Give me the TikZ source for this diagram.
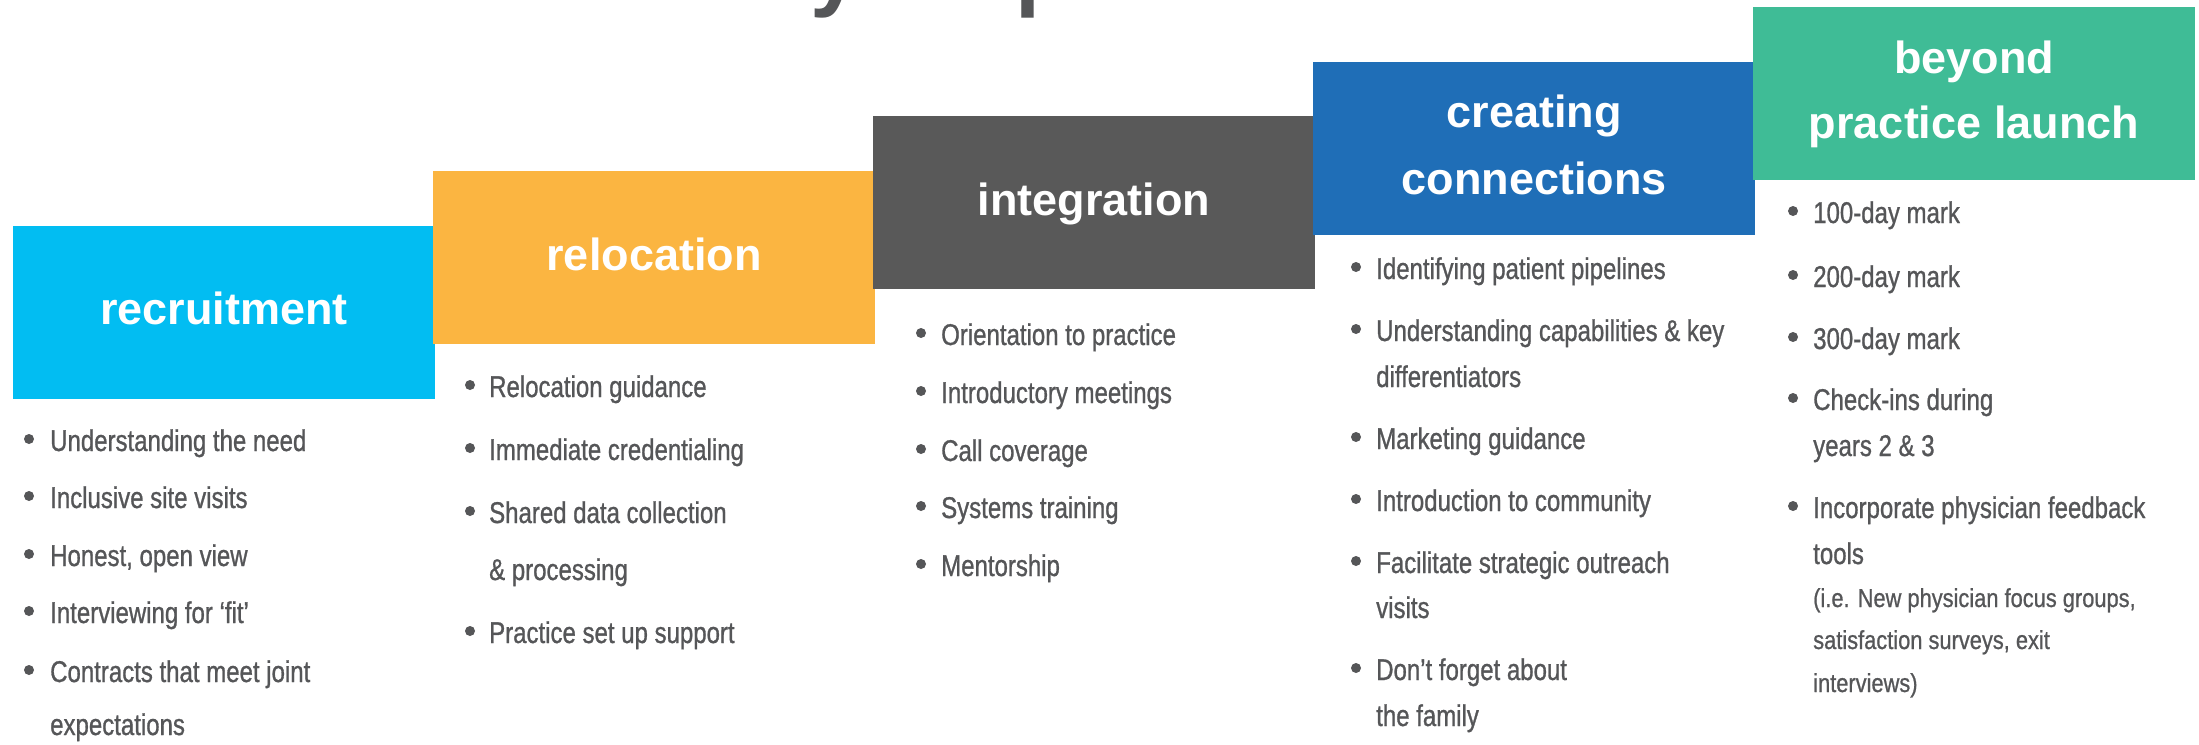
\documentclass[tikz,border=0pt]{standalone}
\usepackage{fontspec}
\setmainfont{Liberation Sans}
\newfontfamily\headfont{Liberation Sans}
\newfontfamily\bodyfont{Liberation Sans}[FakeStretch=0.8,FakeBold=0.9]
\newfontfamily\notefont{Liberation Sans}[FakeStretch=0.84,FakeBold=0.8]

\definecolor{cRecruit}{HTML}{02BDF2}
\definecolor{cReloc}{HTML}{FBB541}
\definecolor{cInteg}{HTML}{595959}
\definecolor{cConn}{HTML}{1F6EB7}
\definecolor{cBeyond}{HTML}{3FBC96}
\definecolor{txtgray}{HTML}{555658}

\tikzset{
  stagebox/.style={rectangle, inner sep=0pt, outer sep=0pt, anchor=north west,
                   minimum height=173pt},
  stagetext/.style={inner sep=0pt, anchor=base, text=white,
                    font=\headfont\bfseries\fontsize{45}{54}\selectfont},
  itm/.style={inner sep=0pt, anchor=base west, text=txtgray,
              font=\bodyfont\fontsize{30}{36}\selectfont},
  note/.style={itm, font=\notefont\fontsize{26}{31}\selectfont},
  headline/.style={inner sep=0pt, anchor=base west, text=txtgray,
                   font=\headfont\bfseries\fontsize{90}{100}\selectfont}
}

% one list line: name, x of text, baseline depth, text
\newcommand\entry[4]{\node[itm] (#1) at (#2,-#3) {#4};}
\newcommand\noteline[4]{\node[note] (#1) at (#2,-#3) {#4};}
% bullet dot: x of dot centre, baseline depth of its line
\newcommand\dotat[2]{\fill[txtgray] ({#1},{12-#2}) circle (5pt);}

\begin{document}
\begin{tikzpicture}[x=1pt,y=1pt]
\useasboundingbox (0,0) rectangle (2199,-744);
\fill[white] (0,0) rectangle (2199,-744);

% heading running off the top edge
\begin{scope}
  \clip (0,0) rectangle (2199,-744);
  \node[headline] (title) at (695,0.5) {Key steps};
\end{scope}

% stair of stage boxes
\node[stagebox, fill=cRecruit, minimum width=422pt] (bRecruit) at (13,-226) {};
\node[stagebox, fill=cReloc,   minimum width=442pt] (bReloc)   at (433,-171) {};
\node[stagebox, fill=cInteg,   minimum width=442pt] (bInteg)   at (873,-116) {};
\node[stagebox, fill=cConn,    minimum width=442pt] (bConn)    at (1313,-62) {};
\node[stagebox, fill=cBeyond,  minimum width=442pt] (bBeyond)  at (1753,-7) {};

\node[stagetext] (tRecruit) at (224,-324) {recruitment};
\node[stagetext] (tReloc)   at (654,-270) {relocation};
\node[stagetext] (tInteg)   at (1094,-215) {integration};
\node[stagetext] (tConnA)   at (1534,-127) {creating};
\node[stagetext] (tConnB)   at (1534,-194) {connections};
\node[stagetext] (tBeyondA) at (1974,-73) {beyond};
\node[stagetext] (tBeyondB) at (1974,-138) {practice launch};

% recruitment
\dotat{29}{451}\entry{r1}{50}{451}{Understanding the need}
\dotat{29}{508}\entry{r2}{50}{508}{Inclusive site visits}
\dotat{29}{566}\entry{r3}{50}{566}{Honest, open view}
\dotat{29}{623}\entry{r4}{50}{623}{Interviewing for ‘fit’}
\dotat{29}{682}\entry{r5}{50}{682}{Contracts that meet joint}
\entry{r5b}{50}{735}{expectations}

% relocation
\dotat{470}{397}\entry{l1}{489}{397}{Relocation guidance}
\dotat{470}{460}\entry{l2}{489}{460}{Immediate credentialing}
\dotat{470}{523}\entry{l3}{489}{523}{Shared data collection}
\entry{l3b}{489}{580}{\& processing}
\dotat{470}{643}\entry{l4}{489}{643}{Practice set up support}

% integration
\dotat{921}{345}\entry{i1}{941}{345}{Orientation to practice}
\dotat{921}{403}\entry{i2}{941}{403}{Introductory meetings}
\dotat{921}{461}\entry{i3}{941}{461}{Call coverage}
\dotat{921}{518}\entry{i4}{941}{518}{Systems training}
\dotat{921}{576}\entry{i5}{941}{576}{Mentorship}

% creating connections
\dotat{1356}{279}\entry{c1}{1376}{279}{Identifying patient pipelines}
\dotat{1356}{341}\entry{c2}{1376}{341}{Understanding capabilities \& key}
\entry{c2b}{1376}{387}{differentiators}
\dotat{1356}{449}\entry{c3}{1376}{449}{Marketing guidance}
\dotat{1356}{511}\entry{c4}{1376}{511}{Introduction to community}
\dotat{1356}{573}\entry{c5}{1376}{573}{Facilitate strategic outreach}
\entry{c5b}{1376}{618}{visits}
\dotat{1356}{680}\entry{c6}{1376}{680}{Don’t forget about}
\entry{c6b}{1376}{726}{the family}

% beyond practice launch
\dotat{1793}{223}\entry{p1}{1813}{223}{100-day mark}
\dotat{1793}{287}\entry{p2}{1813}{287}{200-day mark}
\dotat{1793}{349}\entry{p3}{1813}{349}{300-day mark}
\dotat{1793}{410}\entry{p4}{1813}{410}{Check-ins during}
\entry{p4b}{1813}{456}{years 2 \& 3}
\dotat{1793}{518}\entry{p5}{1813}{518}{Incorporate physician feedback}
\entry{p5b}{1813}{564}{tools}
\noteline{p5c}{1813}{607}{(i.e. New physician focus groups,}
\noteline{p5d}{1813}{649}{satisfaction surveys, exit}
\noteline{p5e}{1813}{692}{interviews)}
\end{tikzpicture}
\end{document}
